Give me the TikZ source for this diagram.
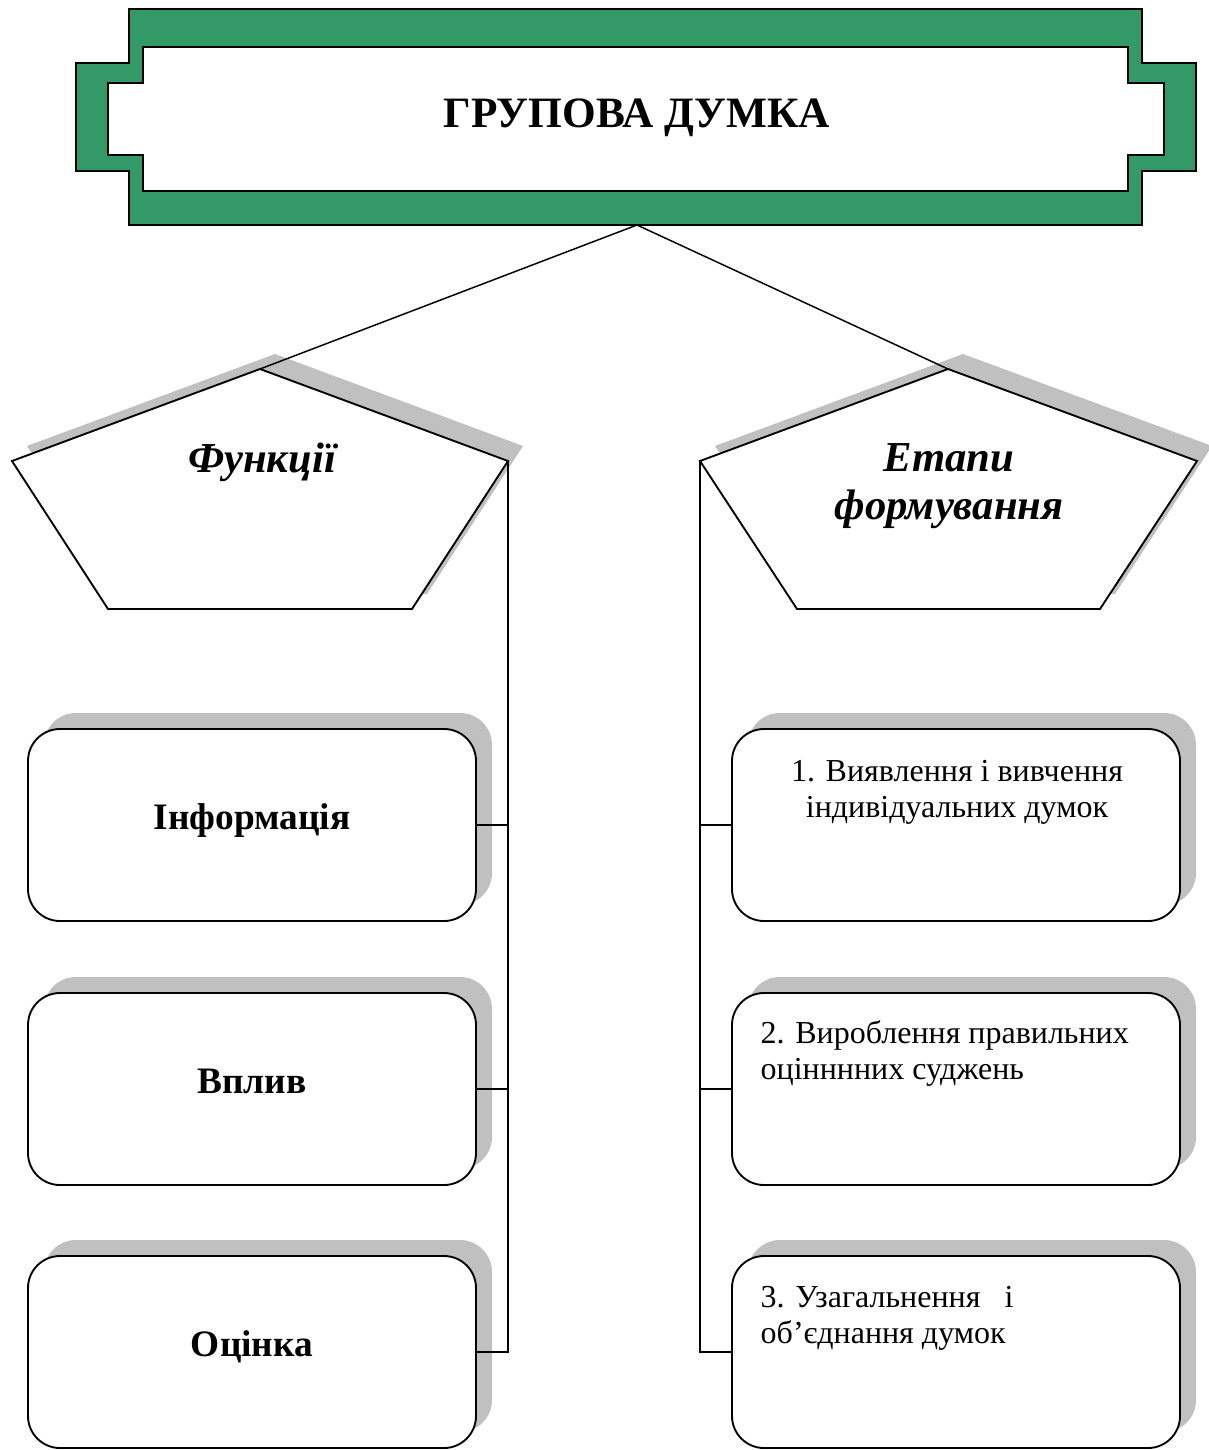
\documentclass[tikz,border=0pt]{standalone}
\usepackage{fontspec}
\setmainfont{Liberation Serif}
\usetikzlibrary{shadows}
\definecolor{bannergreen}{RGB}{51,153,102}
\definecolor{shadowgray}{RGB}{192,192,192}
\tikzset{
  panel/.style={draw=black,fill=white,line width=1.4pt},
  link/.style={line width=1.1pt},
  stagebox/.style={panel,rounded corners=24pt,minimum width=336pt,minimum height=144pt,
    drop shadow={shadow xshift=12pt,shadow yshift=12pt,fill=shadowgray,opacity=1}},
  titletext/.style={font=\bfseries\fontsize{32.5}{38}\selectfont},
  heading/.style={font=\bfseries\itshape\fontsize{32}{36}\selectfont,align=center},
  boldtext/.style={font=\bfseries\fontsize{28}{33}\selectfont,text height=20pt,text depth=13pt},
  plaintext/.style={font=\fontsize{24}{27}\selectfont}
}
\begin{document}
\begin{tikzpicture}[x=0.75pt,y=-0.75pt]
\useasboundingbox (0,0) rectangle (1208,1450);
% banner
\draw[fill=bannergreen,line width=1.4pt] (129,9) -- (1142,9) -- (1142,63) -- (1196,63) -- (1196,171) -- (1142,171) -- (1142,225) -- (129,225) -- (129,171) -- (76,171) -- (76,63) -- (129,63) -- cycle;
\draw[panel] (143,47) -- (1128,47) -- (1128,83) -- (1164,83) -- (1164,155) -- (1128,155) -- (1128,191) -- (143,191) -- (143,155) -- (108,155) -- (108,83) -- (143,83) -- cycle;
\node[titletext] (title) at (637,118) {ГРУПОВА ДУМКА};
\coordinate (titlefoot) at (637,225);
% pentagons
\fill[shadowgray,shift={(15,-15)}] (12,461) -- (260,369) -- (508,461) -- (412,609) -- (108,609) -- cycle;
\draw[panel] (12,461) -- (260,369) coordinate (funcapex) -- (508,461) coordinate (funcright) -- (412,609) -- (108,609) -- cycle;
\fill[shadowgray,shift={(15,-15)}] (700,461) -- (948,369) -- (1197,461) -- (1100,609) -- (797,609) -- cycle;
\draw[panel] (700,461) coordinate (stageleft) -- (948,369) coordinate (stageapex) -- (1197,461) -- (1100,609) -- (797,609) -- cycle;
\node[heading] (functions) at (262,462) {Функції};
\node[heading] (stages) at (949,486) {Етапи\\формування};
% left boxes
\node[stagebox,boldtext] (info) at (252,825) {Інформація};
\node[stagebox,boldtext] (influence) at (252,1089) {Вплив};
\node[stagebox,boldtext] (assess) at (252,1352) {Оцінка};
% right boxes
\node[stagebox] (stage1) at (956,825) {};
\node[stagebox] (stage2) at (956,1089) {};
\node[stagebox] (stage3) at (956,1352) {};
\node[plaintext,align=center] (stage1text) at (957,792) {1. Виявлення і вивчення\\індивідуальних думок};
\node[plaintext,align=left,anchor=west] (stage2text) at (756,1053) {2. Вироблення правильних\\оцінннних суджень};
\node[plaintext,align=left,anchor=west] (stage3text) at (756,1318) {3. Узагальнення\hspace{0.5em} і\\об’єднання думок};
% connectors
\draw[link] (titlefoot) -- (funcapex);
\draw[link] (titlefoot) -- (stageapex);
\draw[link] (funcright) |- (assess.east);
\draw[link] (info.east) -- (info.east -| funcright);
\draw[link] (influence.east) -- (influence.east -| funcright);
\draw[link] (stageleft) |- (stage3.west);
\draw[link] (stage1.west) -- (stage1.west -| stageleft);
\draw[link] (stage2.west) -- (stage2.west -| stageleft);
\end{tikzpicture}
\end{document}
